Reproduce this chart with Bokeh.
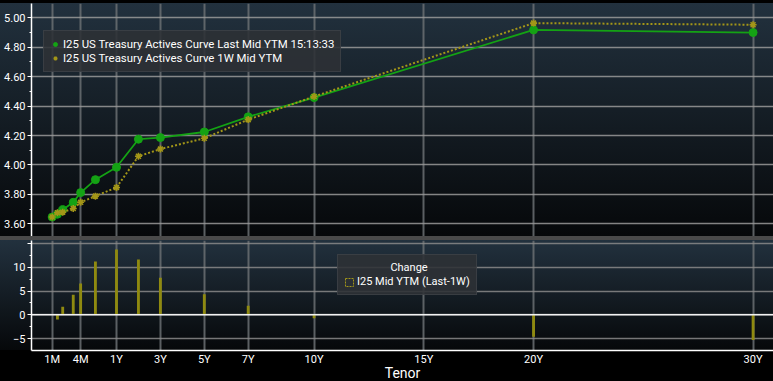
import numpy as np
from bokeh.plotting import figure
from bokeh.models import (ColumnDataSource, Range1d, FixedTicker, Legend, LegendItem,
                          Span, Div, PrintfTickFormatter)
from bokeh.layouts import column
from bokeh.embed import file_html
from bokeh.resources import INLINE

# ---------------- data ----------------
tenor_names = ["1M", "1.5M", "2M", "3M", "4M", "6M", "1Y", "2Y", "3Y", "5Y", "7Y", "10Y", "20Y", "30Y"]
tenor_years = [1/12, 1.5/12, 2/12, 3/12, 4/12, 6/12, 1, 2, 3, 5, 7, 10, 20, 30]
yield_last = [3.646, 3.665, 3.696, 3.746, 3.812, 3.900, 3.984, 4.175, 4.186, 4.224, 4.327, 4.458, 4.918, 4.900]
yield_1w = [3.646, 3.675, 3.679, 3.704, 3.746, 3.788, 3.847, 4.059, 4.108, 4.181, 4.308, 4.465, 4.964, 4.953]
change_bp = [0.0, -1.0, 1.7, 4.2, 6.6, 11.2, 13.7, 11.6, 7.8, 4.3, 1.9, -0.7, -4.6, -5.3]

axis_tick_names = ["1M", "4M", "1Y", "3Y", "5Y", "7Y", "10Y", "15Y", "20Y", "30Y"]
axis_tick_years = [1/12, 4/12, 1, 3, 5, 7, 10, 15, 20, 30]

yield_ticks = [3.6, 3.8, 4.0, 4.2, 4.4, 4.6, 4.8, 5.0]
change_ticks = [-5, 0, 5, 10, 15]

label_last = "I25 US Treasury Actives Curve Last Mid YTM 15:13:33"
label_1w = "I25 US Treasury Actives Curve 1W Mid YTM"
label_change = "I25 Mid YTM (Last-1W)"
title_change = "Change"

# Tenor axis scale: linear in years from 1Y, stretched short end (Bloomberg style)
SHORT_YEARS = [1/12, 3/12, 6/12, 1.0]
SHORT_AXIS = [-1.93, -0.97, 0.04, 1.0]


def tenor_axis(t):
    t = np.asarray(t, dtype=float)
    return np.where(t >= 1, t, np.interp(t, SHORT_YEARS, SHORT_AXIS))


xs = tenor_axis(tenor_years)
tick_pos = [round(float(v), 4) for v in tenor_axis(axis_tick_years)]

src = ColumnDataSource(dict(x=xs, last=yield_last, w1=yield_1w, chg=change_bp))

FONT = "Roboto"
GREEN = "#14a214"
OLIVE = "#a39618"
BAR = "#8f8a10"

x_range = Range1d(-2.872, 30.93)

# ---------------- top panel ----------------
top = figure(frame_width=742, frame_height=233, x_range=x_range, y_range=Range1d(3.5136, 5.0973),
             output_backend="svg", toolbar_location=None, x_axis_location=None,
             min_border_left=31, min_border_right=0, min_border_top=3, min_border_bottom=0)
top.background_fill_alpha = 0
top.border_fill_alpha = 0
top.outline_line_color = None
top.styles = {"background": "linear-gradient(to bottom, #000 0px, #000 3px, #22313e 3px, #06080a 236px)"}

top.yaxis.ticker = FixedTicker(ticks=yield_ticks,
                               minor_ticks=[round(v, 2) for v in np.arange(3.6, 5.05, 0.1)])
top.yaxis.formatter = PrintfTickFormatter(format="%.2f")
top.xgrid.ticker = FixedTicker(ticks=tick_pos)

l1 = top.line("x", "last", source=src, line_color=GREEN, line_width=1.8)
s1 = top.scatter("x", "last", source=src, marker="circle", size=8, fill_color=GREEN, line_color=GREEN)
l2 = top.line("x", "w1", source=src, line_color=OLIVE, line_width=2, line_dash="2 2")
s2 = top.scatter("x", "w1", source=src, marker="asterisk", size=7, line_color=OLIVE, line_width=1.6)

leg_top = Legend(items=[LegendItem(label=label_last, renderers=[s1]),
                        LegendItem(label=label_1w, renderers=[s2])],
                 location=(12, 165))
top.add_layout(leg_top)

# ---------------- bottom panel ----------------
bot = figure(frame_width=742, frame_height=110, x_range=x_range, y_range=Range1d(-7.50, 15.61),
             output_backend="svg", toolbar_location=None,
             min_border_left=31, min_border_right=0, min_border_top=0, min_border_bottom=0)
bot.background_fill_alpha = 0
bot.border_fill_alpha = 0
bot.outline_line_color = None
bot.styles = {"background": "linear-gradient(to bottom, #22313e 0px, #06080a 110px, #000 110px, #000 100%)"}

bot.yaxis.ticker = FixedTicker(ticks=change_ticks, minor_ticks=[-2.5, 2.5, 7.5, 12.5])
bot.yaxis.major_label_overrides = {15: ""}
bot.xaxis.ticker = FixedTicker(ticks=tick_pos)
bot.xaxis.major_label_overrides = {p: n for p, n in zip(tick_pos, axis_tick_names)}
bot.xaxis.axis_label = "Tenor"

bars = bot.vbar(x="x", top="chg", bottom=0, width=0.13, source=src, fill_color=BAR, line_color=None)
# legend swatch: dashed outline square (hidden renderer used only for the legend)
proxy = bot.rect(x="x", y=0, width=0.1, height=0.1, source=src, fill_alpha=0, line_color=OLIVE,
                 line_width=1, line_dash="2 1", visible=False)
bot.add_layout(Span(location=0, dimension="width", line_color="#f2f2f2", line_width=1.5))

# title centred over the item (Bokeh legend titles are left aligned)
leg_bot = Legend(items=[LegendItem(label=label_change, renderers=[proxy])],
                 location=(306, 55), title="\u00a0" * 17 + title_change)
bot.add_layout(leg_bot)

# ---------------- common styling ----------------
for p in (top, bot):
    for ax in p.yaxis:
        ax.axis_line_color = "white"
        ax.axis_line_width = 1.5
        ax.major_tick_line_color = "white"
        ax.major_tick_out = 4
        ax.major_tick_in = 0
        ax.minor_tick_line_color = "white"
        ax.minor_tick_out = 2
        ax.minor_tick_in = 0
        ax.major_label_text_color = "white"
        ax.major_label_text_font = FONT
        ax.major_label_text_font_size = "11px"
        ax.major_label_standoff = 2
    p.ygrid.grid_line_color = "#9a9a9a"
    p.ygrid.grid_line_width = 1.3
    p.ygrid.grid_line_alpha = 0.85
    p.xgrid.grid_line_color = "#6a6e72"
    p.xgrid.grid_line_width = 2
    p.xgrid.grid_line_alpha = 0.85
    for lg in p.legend:
        lg.background_fill_color = "#2d3135"
        lg.background_fill_alpha = 0.88
        lg.border_line_color = "#474c52"
        lg.border_line_width = 1
        lg.label_text_color = "white"
        lg.label_text_font = FONT
        lg.label_text_font_size = "11px"
        lg.label_height = 14
        lg.glyph_height = 14
        lg.glyph_width = 10
        lg.label_standoff = 3
        lg.padding = 5
        lg.spacing = 0
        lg.margin = 0
        lg.inactive_fill_alpha = 0
        lg.title_text_color = "white"
        lg.title_text_font = FONT
        lg.title_text_font_size = "11px"
        lg.title_text_font_style = "normal"
        lg.title_standoff = 1

leg_top.label_text_font_size = "11.4px"
leg_top.padding = 6
leg_top.location = (12, 164)

leg_bot.glyph_height = 10
leg_bot.label_height = 13
leg_bot.padding = 6

bot.ygrid.grid_line_color = "#8a8a8a"

xa = bot.xaxis[0]
xa.axis_line_color = "white"
xa.axis_line_width = 1.5
xa.major_tick_out = 0
xa.major_tick_in = 0
xa.minor_tick_line_color = None
xa.major_label_text_color = "white"
xa.major_label_text_font = FONT
xa.major_label_text_font_size = "11px"
xa.major_label_standoff = 2
xa.axis_label_text_color = "white"
xa.axis_label_text_font = FONT
xa.axis_label_text_font_size = "14px"
xa.axis_label_text_font_style = "normal"
xa.axis_label_standoff = -4

divider = Div(text='<div style="margin:1px auto 0 auto;width:11px;height:2px;background:#9c9c9c"></div>',
              width=773, height=4, margin=(0, 0, 0, 0),
              styles={"background-color": "#4a4a4a"})

layout = column(top, divider, bot, spacing=0, styles={"background-color": "#000"})

open("out.html", "w").write(file_html(layout, INLINE))
